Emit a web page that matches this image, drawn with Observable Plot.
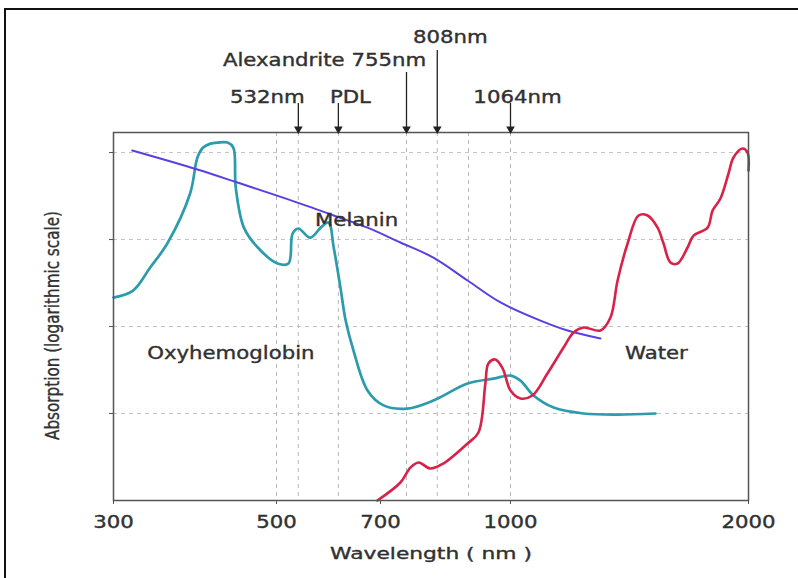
<!DOCTYPE html>
<html><head><meta charset="utf-8">
<script src="https://cdn.jsdelivr.net/npm/d3@7"></script>
<script src="https://cdn.jsdelivr.net/npm/@observablehq/plot@0.6"></script>
<style>
body{margin:0;background:#fff;overflow:hidden;}
#wrap{position:relative;width:798px;height:578px;}
#chart{position:absolute;left:0;top:0;}
#chart text{stroke:#2a2a2a;stroke-width:0.35px;}
#border{position:absolute;left:4px;top:8px;width:900px;height:700px;border:2px solid #111;pointer-events:none;}
</style></head><body>
<div id="wrap"><div id="chart"></div><div id="border"></div></div>
<script>
// ---- data ----
const xTicks = [300, 500, 700, 1000, 2000];
const yTicks = [1, 10, 100, 1000];
const gridX = [500, 542, 619, 760, 831, 903, 1000];
const lasers = [
  {label: "532nm", x: 542, level: 0},
  {label: "PDL", x: 619, level: 0},
  {label: "Alexandrite 755nm", x: 760, level: 1},
  {label: "808nm", x: 831, level: 2},
  {label: "1064nm", x: 1000, level: 0}
];
const oxyNm = [300, 324, 345, 366, 394, 403, 410, 419, 428, 440, 447, 450, 460, 477, 502, 523, 531, 542, 565, 585, 600, 610, 623, 633, 648, 675, 707, 762, 822, 901, 961, 1000, 1042, 1097, 1181, 1307, 1450, 1609];
const oxyAbs = [21.5, 25.9, 47.7, 90, 338, 877, 1141, 1267, 1303, 1303, 1141, 396, 137, 81, 53, 53, 117, 134, 105, 137, 157, 81, 28, 11.7, 5.3, 1.84, 1.24, 1.14, 1.41, 2.21, 2.52, 2.73, 2.39, 1.61, 1.17, 1.0, 0.97, 1.0];
const melNm = [323, 403, 452, 546, 610, 675, 746, 822, 901, 977, 1126, 1240, 1378];
const melAbs = [1054, 638, 452, 259, 189, 137, 92.4, 62, 33.8, 18.9, 11.7, 9.0, 7.28];
const waterNm = [694, 746, 769, 788, 815, 845, 901, 926, 942, 949, 965, 982, 1000, 1042, 1092, 1155, 1223, 1265, 1307, 1378, 1420, 1450, 1492, 1538, 1576, 1618, 1643, 1672, 1702, 1744, 1769, 1828, 1849, 1882, 1916, 1937, 1975, 1996, 2000];
const waterAbs = [0.1, 0.161, 0.239, 0.273, 0.233, 0.266, 0.452, 0.605, 2.21, 3.76, 4.18, 3.29, 1.84, 1.49, 1.61, 2.88, 5.74, 8.53, 9.74, 9.0, 12.7, 33.8, 90, 189, 189, 137, 90, 54.4, 53, 81, 111, 137, 215, 296, 574, 877, 1112, 1000, 621];
const curveLabels = [
  {name: "Melanin", x: 654, y: 165},
  {name: "Oxyhemoglobin", x: 444, y: 4.9},
  {name: "Water", x: 1613, y: 4.9}
];
const xTitle = "Wavelength ( nm )";
const yTitle = "Absorption (logarithmic scale)";

// ---- build ----
const toRows = (xs, ys) => xs.map((x, i) => ({nm: x, abs: ys[i]}));
const oxy = toRows(oxyNm, oxyAbs);
const mel = toRows(melNm, melAbs);
const water = toRows(waterNm, waterAbs);

const W = 798, H = 578, mL = 113, mR = 50, mT = 132, mB = 78;
const plotH = H - mT - mB;
const arrowLen = {0: 29, 1: 60, 2: 82};
const rowDy = {0: -35, 1: -72, 2: -95};
const labelDx = {"532nm": -31, "PDL": 12, "Alexandrite 755nm": -82, "808nm": 13, "1064nm": 7};

const marks = [
  Plot.ruleY(yTicks, {stroke: "#c4c4c4", strokeDasharray: "4,4"}),
  Plot.ruleX(gridX, {stroke: "#b8b8b8", strokeDasharray: "4,4"}),
  Plot.line(oxy, {x: "nm", y: "abs", stroke: "#2c9bab", strokeWidth: 2.7, curve: "catmull-rom"}),
  Plot.line(mel, {x: "nm", y: "abs", stroke: "#5b3fe0", strokeWidth: 2, curve: "catmull-rom"}),
  Plot.line(water, {x: "nm", y: "abs", stroke: "#d8224a", strokeWidth: 2.6, curve: "catmull-rom"}),
  Plot.frame({stroke: "#555", strokeWidth: 1.5}),
  Plot.axisX({ticks: xTicks, tickFormat: d => String(d), tickSize: 4, tickPadding: 11, label: null, stroke: "#555"}),
  Plot.axisY({ticks: yTicks, tickFormat: () => "", tickSize: 4, label: null, stroke: "#555"}),
  ...[0, 1, 2].map(k => Plot.ruleX(lasers.filter(d => d.level === k), {x: "x", insetTop: -arrowLen[k], insetBottom: plotH, stroke: "#222", strokeWidth: 1.3})),
  Plot.dot(lasers, {x: "x", frameAnchor: "top", symbol: "triangle", rotate: 180, r: 3.2, fill: "#222", stroke: null, dy: -3.5}),
  ...lasers.map(d => Plot.text([d], {x: "x", text: "label", frameAnchor: "top", lineAnchor: "middle", dy: rowDy[d.level], dx: labelDx[d.label], fill: "#333"})),
  Plot.text(curveLabels, {x: "x", y: "y", text: "name", fill: "#333"}),
  Plot.text([xTitle], {text: d => d, frameAnchor: "bottom", lineAnchor: "middle", dy: 53, fill: "#333", fontSize: 16}),
  Plot.text([yTitle], {text: d => d, frameAnchor: "left", textAnchor: "middle", lineAnchor: "middle", rotate: -90, dx: -61, dy: 9, fill: "#333", fontSize: 19})
];

const chart = Plot.plot({
  width: W, height: H,
  marginLeft: mL, marginRight: mR, marginTop: mT, marginBottom: mB,
  style: {fontFamily: "DejaVu Sans, Verdana, sans-serif", fontSize: "17px", color: "#333", background: "white"},
  x: {type: "linear", domain: xTicks, range: [113, 276, 380, 510, 748]},
  y: {type: "log", domain: [0.1, 1700]},
  marks
});
document.getElementById("chart").append(chart);

// glyph proportions as in the reference image: widened horizontally, the rotated title condensed
chart.querySelectorAll("text").forEach(t => {
  const w = t.getComputedTextLength();
  if (!(w > 0)) return;
  const k = t.textContent === yTitle ? 0.8 : t.textContent === xTitle ? 1.36 : 1.25;
  t.setAttribute("textLength", (w * k).toFixed(1));
  t.setAttribute("lengthAdjust", "spacingAndGlyphs");
});
</script>
</body></html>
